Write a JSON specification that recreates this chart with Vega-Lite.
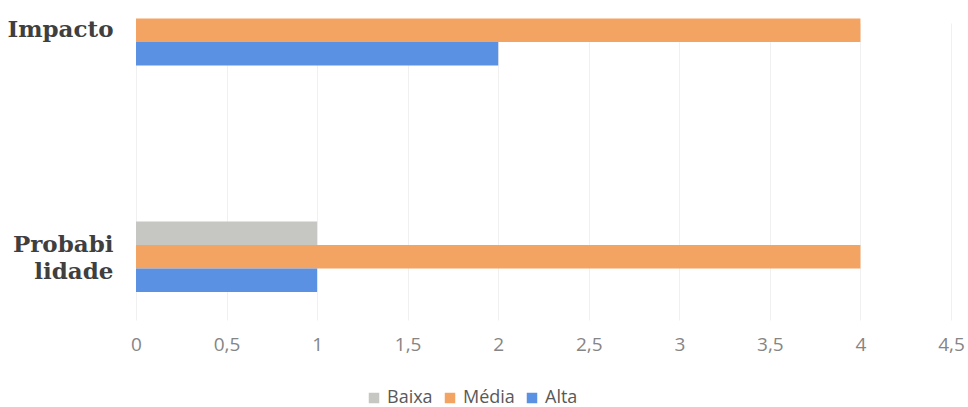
{
  "$schema": "https://vega.github.io/schema/vega-lite/v6.json",
  "width": 815,
  "height": 315,
  "autosize": {"type": "none"},
  "padding": {"left": 136, "top": 0, "right": 17, "bottom": 92},
  "background": "white",
  "data": {
    "values": [
      {"categoria": "Impacto", "nivel": "Média", "valor": 4},
      {"categoria": "Impacto", "nivel": "Alta", "valor": 2},
      {"categoria": "Probabilidade", "nivel": "Baixa", "valor": 1},
      {"categoria": "Probabilidade", "nivel": "Média", "valor": 4},
      {"categoria": "Probabilidade", "nivel": "Alta", "valor": 1}
    ]
  },
  "mark": {"type": "bar"},
  "encoding": {
    "y": {
      "field": "categoria",
      "type": "nominal",
      "sort": ["Impacto", "Probabilidade"],
      "scale": {"range": [-5, 292], "paddingInner": 0.689, "paddingOuter": 0},
      "axis": {
        "title": null,
        "domain": false,
        "ticks": false,
        "grid": false,
        "labelFont": "DejaVu Serif",
        "labelFontWeight": "bold",
        "labelFontSize": 23,
        "labelColor": "#3f3f3f",
        "labelPadding": 23,
        "labelLineHeight": 27,
        "labelOffset": {"condition": {"test": "datum.value == 'Probabilidade'", "value": -12}, "value": 0},
        "labelExpr": "datum.value == 'Probabilidade' ? ['Probabi', 'lidade'] : datum.value"
      }
    },
    "yOffset": {
      "field": "nivel",
      "type": "nominal",
      "sort": ["Baixa", "Média", "Alta"],
      "scale": {"domain": ["Baixa", "Média", "Alta"], "paddingInner": 0, "paddingOuter": 0}
    },
    "x": {
      "field": "valor",
      "type": "quantitative",
      "scale": {"domain": [0, 4.5], "nice": false},
      "axis": {
        "title": null,
        "values": [0, 0.5, 1, 1.5, 2, 2.5, 3, 3.5, 4, 4.5],
        "labelExpr": "replace(format(datum.value, ''), '.', ',')",
        "domain": false,
        "ticks": false,
        "grid": true,
        "gridColor": "#f0f0f0",
        "gridWidth": 1,
        "labelFont": "Open Sans",
        "labelFontSize": 19,
        "labelColor": "#858585",
        "labelPadding": 20,
        "labelFlush": false
      }
    },
    "color": {
      "field": "nivel",
      "type": "nominal",
      "sort": ["Baixa", "Média", "Alta"],
      "scale": {"domain": ["Baixa", "Média", "Alta"], "range": ["#c6c7c3", "#f4a462", "#5b91e2"]},
      "legend": {
        "title": null,
        "orient": "none",
        "direction": "horizontal",
        "legendX": 229,
        "legendY": 389,
        "symbolType": "square",
        "symbolSize": 110,
        "symbolStrokeWidth": 0,
        "labelFont": "Open Sans",
        "labelFontSize": 18,
        "labelColor": "#595959",
        "labelOffset": 4,
        "columnPadding": 8
      }
    }
  },
  "config": {"view": {"stroke": null}}
}
